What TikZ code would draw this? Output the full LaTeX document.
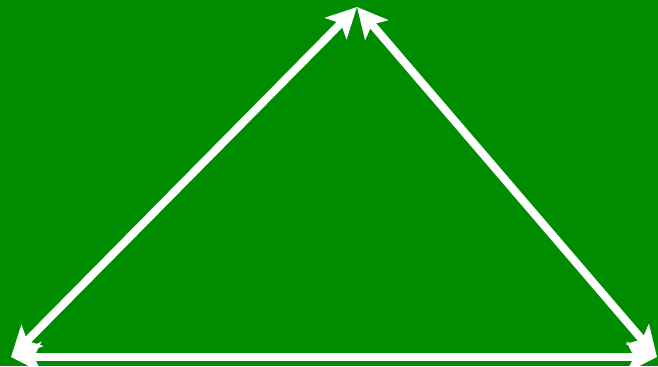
\documentclass[tikz,border=0pt]{standalone}
\usetikzlibrary{arrows.meta}
\definecolor{fieldgreen}{RGB}{0,140,0}

\begin{document}
\begin{tikzpicture}[x=0.01cm,y=-0.01cm,link/.style={{Stealth[length=0.3cm,width=0.3cm,inset=0.07cm]}-{Stealth[length=0.3cm,width=0.3cm,inset=0.07cm]},draw=white,line width=0.08cm}]
\fill[fieldgreen] (0,0) rectangle (658,366);
\useasboundingbox (0,0) rectangle (658,366);
% corners of the triangle
\coordinate (apex) at (357,7);
\coordinate (left) at (11,357);
\coordinate (right) at (657,357);
\draw[link] (apex)--(left);
\draw[link] (apex)--(right);
\draw[link] (left)--(right);
\end{tikzpicture}
\end{document}
